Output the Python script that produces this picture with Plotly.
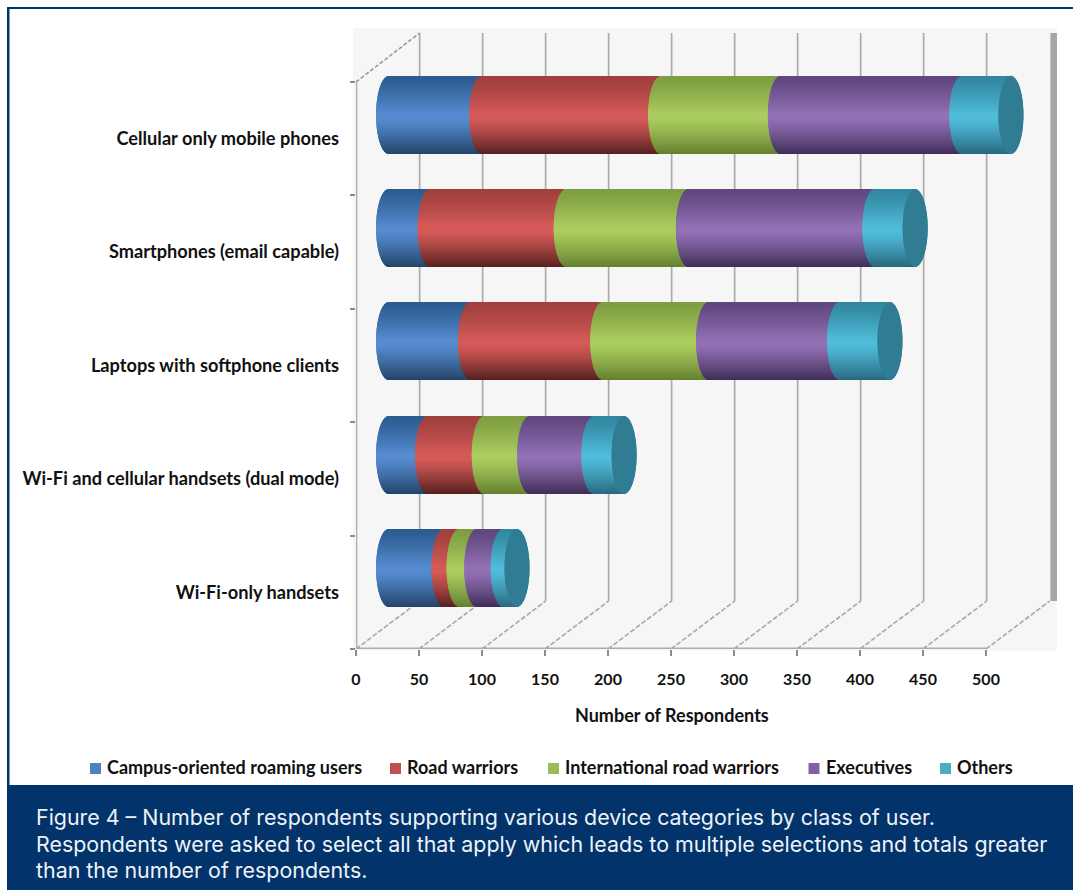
import plotly.graph_objects as go

# Device categories, bottom row first
categories = [
    "Wi-Fi-only handsets",
    "Wi-Fi and cellular handsets (dual mode)",
    "Laptops with softphone clients",
    "Smartphones (email capable)",
    "Cellular only mobile phones",
]

# Respondents per class of user, same order as categories
campus_users = [44, 31, 65, 33, 74]
road_warriors = [12, 45, 105, 108, 142]
intl_road_warriors = [14, 36, 84, 97, 95]
executives = [21, 51, 104, 148, 144]
others = [11, 24, 40, 32, 39]

x_ticks = [0, 50, 100, 150, 200, 250, 300, 350, 400, 450, 500]

series_names = [
    "Campus-oriented roaming users",
    "Road warriors",
    "International road warriors",
    "Executives",
    "Others",
]
series_values = [campus_users, road_warriors, intl_road_warriors, executives, others]

# Shading stops for each cylinder: upper edge, highlight, lower edge
shades = [
    ("#2c5c90", "#558bd0", "#234468"),
    ("#a0403d", "#d45a58", "#56211f"),
    ("#7f9e42", "#abcc5e", "#64802f"),
    ("#60477f", "#9270b5", "#3f2d57"),
    ("#3187a0", "#50bcd9", "#28687f"),
]
legend_colors = ["#4f81bd", "#c0504d", "#9bbb59", "#8064a2", "#4bacc6"]
legend_px = [(90, 106), (390, 406), (548, 564), (808.5, 825), (940, 955.5)]
cap_color = "#2f7c93"

WIDTH, HEIGHT = 1073, 890
M_L, M_R, M_T, M_B = 356, 16, 28, 241
PLOT_W, PLOT_H = WIDTH - M_L - M_R, HEIGHT - M_T - M_B
NAVY = "#02336a"
GRID = "#ababab"
LABEL_FONT = dict(family="Lato", size=18.2, color="#111111", weight=700)
LEGEND_FONT = dict(family="Lato", size=18, color="#111111", weight=700)
TICK_FONT = dict(family="Lato", size=16, color="#111111", weight=700)

X_MAX = PLOT_W / 1.26
Y_BOTTOM, Y_TOP = -0.5, 4.976

# Oblique projection of the chart box
DEPTH_X, DEPTH_Y = 50.5, 0.423
WALL_TOP = 4.932
BAR_SHIFT_X, BAR_SHIFT_Y = 25.8, 0.213
BAR_HEIGHT = 0.679
ELLIPSE_X = 9.9
BANDS = 77


def hex_rgb(h):
    return tuple(int(h[i:i + 2], 16) for i in (1, 3, 5))


def shade(stops, t):
    top, mid, bottom = [hex_rgb(c) for c in stops]
    if t < -0.05:
        a, b, f = top, mid, ((t + 1) / 0.95) ** 1.2
    elif t < 0.08:
        a, b, f = mid, mid, 0
    else:
        a, b, f = mid, bottom, ((t - 0.08) / 0.92) ** 1.2
    return "rgb(%d,%d,%d)" % tuple(a[k] + (b[k] - a[k]) * f for k in range(3))


def band_offsets():
    # t runs from -1 at the lower edge of the cylinder to +1 at its upper edge
    return [(-1 + (2 * j + 1) / BANDS) for j in range(BANDS)]


def px_x(px):
    return (px - M_L) / PLOT_W


def px_y(py):
    return 1 - (py - M_T) / PLOT_H


fig = go.Figure()

# Each segment is a stack of thin horizontal bars whose left ends follow an ellipse
totals = [0.0] * len(categories)
for name, values, stops in zip(series_names, series_values, shades):
    ys, xs, bases, colors = [], [], [], []
    for i, v in enumerate(values):
        start = totals[i]
        end = start + v
        for t in band_offsets():
            bulge = ELLIPSE_X * (1 - t * t) ** 0.5
            ys.append(i + BAR_SHIFT_Y + t * BAR_HEIGHT / 2)
            bases.append(start + BAR_SHIFT_X - bulge)
            xs.append(v + bulge)
            colors.append(shade(stops, -t))
        totals[i] = end
    fig.add_trace(go.Bar(
        name=name, orientation="h", y=ys, x=xs, base=bases,
        width=BAR_HEIGHT / BANDS * 1.25,
        marker=dict(color=colors, line=dict(width=0)),
        hoverinfo="skip", showlegend=False,
    ))

# Far end of each cylinder
ys, xs, bases, colors = [], [], [], []
for i, total in enumerate(totals):
    for t in band_offsets():
        bulge = ELLIPSE_X * (1 - t * t) ** 0.5
        ys.append(i + BAR_SHIFT_Y + t * BAR_HEIGHT / 2)
        bases.append(total + BAR_SHIFT_X - bulge)
        xs.append(2 * bulge)
        colors.append(cap_color)
fig.add_trace(go.Bar(
    name="End cap", orientation="h", y=ys, x=xs, base=bases,
    width=BAR_HEIGHT / BANDS * 1.25,
    marker=dict(color=colors, line=dict(width=0)),
    hoverinfo="skip", showlegend=False,
))

shapes = [
    # Chart background
    dict(type="rect", xref="paper", yref="paper", x0=px_x(353), x1=px_x(1057),
         y0=px_y(651), y1=px_y(28), fillcolor="#f6f6f6", line_width=0, layer="below"),
    # Page frame and caption panel
    dict(type="rect", xref="paper", yref="paper", x0=px_x(7), x1=px_x(1073),
         y0=px_y(9), y1=px_y(7), fillcolor=NAVY, line_width=0, layer="below"),
    dict(type="rect", xref="paper", yref="paper", x0=px_x(7), x1=px_x(9.5),
         y0=px_y(785), y1=px_y(7), fillcolor=NAVY, line_width=0, layer="below"),
    dict(type="rect", xref="paper", yref="paper", x0=px_x(7), x1=px_x(1073),
         y0=px_y(890), y1=px_y(785), fillcolor=NAVY, line_width=0, layer="below"),
    # Side wall edge at the far right
    dict(type="rect", xref="x", yref="y", x0=500 + DEPTH_X + 0.6, x1=X_MAX,
         y0=Y_BOTTOM + DEPTH_Y, y1=WALL_TOP, fillcolor="#a6a6a6", line_width=0, layer="below"),
    # Front axis lines
    dict(type="line", xref="x", yref="y", x0=0.4, x1=0.4, y0=Y_BOTTOM, y1=4.5,
         line=dict(color=GRID, width=1.6), layer="below"),
    dict(type="line", xref="x", yref="y", x0=0, x1=500, y0=Y_BOTTOM + 0.006, y1=Y_BOTTOM + 0.006,
         line=dict(color=GRID, width=1.8), layer="below"),
    # Oblique edge at the top of the wall
    dict(type="line", xref="x", yref="y", x0=0, x1=DEPTH_X, y0=4.5, y1=WALL_TOP,
         line=dict(color="#9a9a9a", width=1.6, dash="4px,2px"), layer="below"),
]
for tick in x_ticks:
    shapes.append(dict(type="line", xref="x", yref="y", x0=tick, x1=tick + DEPTH_X,
                       y0=Y_BOTTOM, y1=Y_BOTTOM + DEPTH_Y,
                       line=dict(color="#a8a8a8", width=1.6, dash="5px,2px"), layer="below"))
    if tick < 500:
        shapes.append(dict(type="line", xref="x", yref="y", x0=tick + DEPTH_X, x1=tick + DEPTH_X,
                           y0=Y_BOTTOM + DEPTH_Y, y1=WALL_TOP,
                           line=dict(color=GRID, width=1.7), layer="below"))

annotations = [
    dict(text="Number of Respondents", xref="paper", yref="paper", x=px_x(672), y=px_y(714.5),
         xanchor="center", yanchor="middle", showarrow=False, font=LEGEND_FONT),
]

# Legend row
for name, color, (sw, tx) in zip(series_names, legend_colors, legend_px):
    shapes.append(dict(type="rect", xref="paper", yref="paper", x0=px_x(sw), x1=px_x(sw + 11),
                       y0=px_y(774), y1=px_y(763), fillcolor=color, line_width=0))
    annotations.append(dict(text=name, xref="paper", yref="paper", x=px_x(tx), y=px_y(767),
                            xanchor="left", yanchor="middle", showarrow=False, xshift=-1,
                            font=LEGEND_FONT))

# Caption
caption_lines = [
    "Figure 4 – Number of respondents supporting various device categories by class of user.",
    "Respondents were asked to select all that apply which leads to multiple selections and totals greater",
    "than the number of respondents.",
]
for line, py in zip(caption_lines, (817, 844, 870)):
    annotations.append(dict(text=line, xref="paper", yref="paper", x=px_x(33.5), y=px_y(py),
                            xanchor="left", yanchor="middle", showarrow=False,
                            font=dict(family="Inter", size=21.4, color="#eef2f7")))

fig.update_layout(
    width=WIDTH, height=HEIGHT,
    margin=dict(l=M_L, r=M_R, t=M_T, b=M_B, pad=0),
    template="none",
    barmode="overlay",
    paper_bgcolor="white",
    plot_bgcolor="rgba(0,0,0,0)",
    showlegend=False,
    shapes=shapes,
    annotations=annotations,
    xaxis=dict(
        range=[0, X_MAX], tickmode="array", tickvals=x_ticks, showgrid=False, zeroline=False,
        showline=False, ticks="outside", ticklen=6, tickwidth=1.5, tickcolor="#8c8c8c",
        tickfont=TICK_FONT, ticklabelstandoff=10,
    ),
    yaxis=dict(
        range=[Y_BOTTOM, Y_TOP], tickmode="array", tickvals=list(range(len(categories))),
        ticktext=categories, showgrid=False, zeroline=False, showline=False,
        ticks="", tickfont=LABEL_FONT, ticklabelstandoff=16,
        minor=dict(tickmode="array", tickvals=[-0.5, 0.5, 1.5, 2.5, 3.5, 4.5], ticks="outside",
                   ticklen=5, tickwidth=1.5, tickcolor="#8c8c8c", showgrid=False),
    ),
)

fig.write_html("out.html")
